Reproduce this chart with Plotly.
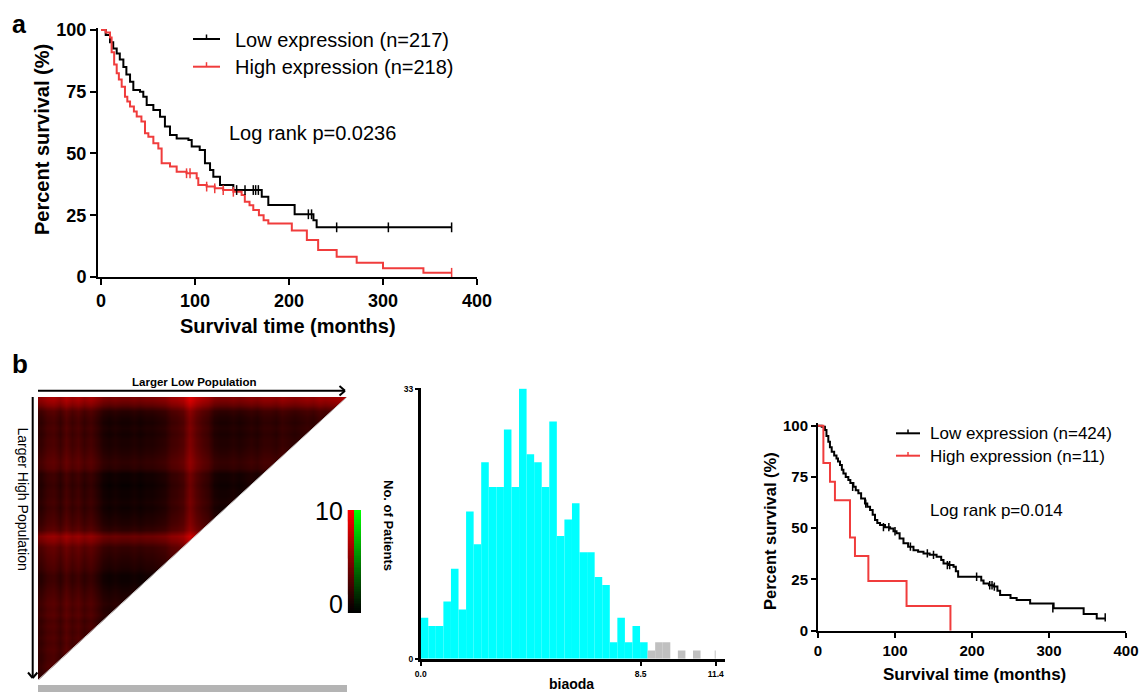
import numpy as np
import plotly.graph_objects as go

# the page body adds an 8px margin; the figure is sized so it exactly fills the window
OFF = 8
W, H = 1148 - OFF, 692 - OFF
FONT = "Liberation Sans, Arial, sans-serif"

# ---------------- Panel a : Kaplan-Meier (n=217 / n=218) ----------------
a_low_t = [0, 5, 9.6, 13, 16.7, 20, 23.8, 27, 30.9, 34.4, 41.5, 45, 48.6, 55.7, 62.8, 68, 73.4,
           80.5, 93, 96.5, 105, 110.6, 116, 119.5, 126.6, 140.8, 171, 178, 206, 226, 229.4, 373]
a_low_s = [100, 98, 95, 92.5, 90.5, 88, 85, 82, 79, 75.7, 75, 73, 69.6, 67.6, 64.9, 60.9, 57.5,
           56.1, 55.5, 52.8, 51.4, 46, 43.3, 40.6, 37.2, 35.2, 32.5, 29.1, 25.4, 23, 20.1, 20.1]
a_low_cens_t = [144.3, 153.2, 162, 164.5, 167.4, 220.6, 224, 250.7, 305.7, 373]
a_low_cens_s = [35.2, 35.2, 35.2, 35.2, 35.2, 25.4, 25.4, 20.1, 20.1, 20.1]

a_high_t = [0, 5, 9.6, 11.3, 14, 16.7, 19, 22, 25.5, 28, 30.9, 35, 38, 43, 46.8, 50.4, 55.7, 61,
            64.5, 73.4, 80.5, 91, 101.8, 103.5, 112.4, 121, 130, 140.8, 149.6, 153, 158, 162,
            168, 173, 178, 203, 219, 231, 250.7, 272, 300, 343, 373]
a_high_s = [100, 99, 97, 91, 86, 82.5, 80, 77, 73, 71, 69, 67, 65, 62.9, 58.2, 56.8, 54.1, 52,
            46, 44.7, 42.6, 42, 40, 37.2, 36.6, 35.9, 35.2, 34.5, 33.2, 30.5, 29, 27.1,
            25, 23, 21.7, 18.8, 15, 10.9, 8.2, 5.8, 3.5, 1.7, 1.7]
a_high_cens_t = [91, 94.7, 112.4, 121, 130, 140.8, 373]
a_high_cens_s = [42, 42, 36.6, 35.9, 35.2, 34.5, 1.7]

# ---------------- Panel b : X-tile style heat map ----------------
hm_rows = [9, 6.5, 3, 2, 1.5, 2, 1.5, 2, 2, 2.5, 3, 3.5, 3, 1, 1, 0.5, 1, 1, 1.5, 1, 1.5, 2,
           2.5, 3.5, 8, 6.5, 4, 3.5, 3, 2.5, 2, 1, 1, 1.5, 2, 2.5, 3, 2.5, 3, 2, 2.5, 2, 2.5,
           2, 2.5, 2, 2, 2.5, 2, 2]
hm_cols = [2, 3.5, 4, 2.5, 4.5, 3, 4, 2.5, 3.5, 2, 0.5, 0, 0.5, 0, 0, 0.5, 0, 0.5, 0.5, 1, 1.5,
           3, 3.5, 4.5, 8, 5.5, 4, 3, 1, 0.5, 0.5, 1, 0.5, 1, 1.5, 1, 2, 2, 1.5, 2.5, 2, 1.5, 2,
           2.5, 2, 3, 2.5, 3, 3.5, 4]
scale_levels = list(np.linspace(0, 10, 60))

# ---------------- Panel b : histogram of biaoda ----------------
hist_bin_width = 0.2923
hist_counts = [5, 4, 4, 7, 11, 6, 18, 14, 24, 21, 21, 28, 21, 33, 25, 24, 21, 29, 15, 17, 19,
               13, 13, 10, 9, 2, 5, 2, 4, 2, 1, 2, 2, 0, 1, 0, 1, 0]
hist_low_bins = 30          # bins drawn in cyan (below cutoff)
hist_tail_x = [11.385]
hist_tail_count = [1]

# ---------------- Panel b : Kaplan-Meier (n=424 / n=11) ----------------
b_low_t = [0, 4.8, 9, 11, 13.4, 15.5, 17.8, 21, 24, 26, 28.6, 31, 33, 36, 39.4, 42, 46, 49,
           52.4, 56, 61, 64, 67.6, 71, 74, 77, 80.6, 87, 93.6, 98, 102, 106, 111, 117, 124,
           130, 137, 145, 154, 160, 163, 170, 176, 179, 182, 212, 215, 222, 228, 233, 236.5,
           250, 258, 275.5, 306, 345, 362, 373]
b_low_s = [100, 99.5, 97.9, 95, 92.2, 89.5, 87.3, 85.5, 84, 82.5, 80.8, 78.5, 76.7, 75, 73.5,
           72, 70.2, 68.5, 67, 64.5, 62, 60.5, 58.9, 56.5, 54, 52.5, 51.5, 50.5, 49.9, 48.5,
           47.5, 45, 42.6, 41, 39.3, 38.5, 37.7, 37, 36.1, 34.5, 32.8, 32, 31.2, 29, 26.3,
           24.5, 23, 22.2, 21.5, 19.5, 17.4, 16, 15, 13.3, 10.9, 8.1, 6, 6]
b_low_cens_t = [45, 62, 85, 92, 100, 120, 142, 150, 168, 171, 206, 223, 226, 229, 305, 373]
b_low_cens_s = [70.2, 62, 50.5, 50.5, 48.5, 41, 37.7, 37, 32, 32, 26.3, 22.2, 22.2, 21.5, 10.9, 6.5]

b_high_t = [0, 7, 15.6, 22, 41.6, 48, 65.4, 115, 172]
b_high_s = [100, 81.8, 72.7, 63.6, 45.5, 36.4, 24.2, 12.1, 0]

RED = "#f03c3c"


def fx(x):
    return (x - OFF) / W


def fy(y):
    return 1 - (y - OFF) / H


fig = go.Figure()

# ---- panel a curves
fig.add_trace(go.Scatter(x=a_low_t, y=a_low_s, mode="lines", line=dict(color="black", width=2, shape="hv"),
                         xaxis="x", yaxis="y"))
fig.add_trace(go.Scatter(x=a_high_t, y=a_high_s, mode="lines", line=dict(color=RED, width=2, shape="hv"),
                         xaxis="x", yaxis="y"))
fig.add_trace(go.Scatter(x=a_low_cens_t, y=a_low_cens_s, mode="markers",
                         marker=dict(symbol="line-ns-open", size=7, color="black", line=dict(color="black", width=1.5)),
                         xaxis="x", yaxis="y"))
fig.add_trace(go.Scatter(x=a_high_cens_t, y=a_high_cens_s, mode="markers",
                         marker=dict(symbol="line-ns-open", size=7, color=RED, line=dict(color=RED, width=1.5)),
                         xaxis="x", yaxis="y"))

# ---- heat map
z = [[(r + c) / 2.0 for c in hm_cols] for r in hm_rows]
fig.add_trace(go.Heatmap(z=z, colorscale=[[0, "#000000"], [1, "#ff0000"]], zmin=0, zmax=10,
                         showscale=False, zsmooth="best", xaxis="x3", yaxis="y3", hoverinfo="skip"))
fig.add_trace(go.Heatmap(z=[[v] for v in scale_levels], x=[0], y=scale_levels,
                         colorscale=[[0, "#000000"], [1, "#ff0000"]], zmin=0, zmax=10,
                         showscale=False, xaxis="x4", yaxis="y4"))
fig.add_trace(go.Heatmap(z=[[v] for v in scale_levels], x=[1], y=scale_levels,
                         colorscale=[[0, "#000000"], [1, "#00ff00"]], zmin=0, zmax=10,
                         showscale=False, xaxis="x4", yaxis="y4"))

# ---- histogram
centers = [(k + 0.5) * hist_bin_width for k in range(len(hist_counts))]
colors = ["#00ffff" if k < hist_low_bins else "#c0c0c0" for k in range(len(hist_counts))]
fig.add_trace(go.Bar(x=centers, y=hist_counts, width=hist_bin_width, marker=dict(color=colors, line=dict(width=0)),
                     xaxis="x5", yaxis="y5"))
fig.add_trace(go.Bar(x=hist_tail_x, y=hist_tail_count, width=0.03, marker=dict(color="#c0c0c0", line=dict(width=0)),
                     xaxis="x5", yaxis="y5"))

# ---- panel b KM
fig.add_trace(go.Scatter(x=b_low_t, y=b_low_s, mode="lines", line=dict(color="black", width=2, shape="hv"),
                         xaxis="x2", yaxis="y2"))
fig.add_trace(go.Scatter(x=b_high_t, y=b_high_s, mode="lines", line=dict(color=RED, width=2, shape="hv"),
                         xaxis="x2", yaxis="y2"))
fig.add_trace(go.Scatter(x=b_low_cens_t, y=b_low_cens_s, mode="markers",
                         marker=dict(symbol="line-ns-open", size=6, color="black", line=dict(color="black", width=1.5)),
                         xaxis="x2", yaxis="y2"))

axis_common = dict(showline=True, linecolor="black", linewidth=2, ticks="outside", tickcolor="black",
                   tickwidth=2, showgrid=False, zeroline=False, automargin=False)

layout = dict(
    width=W, height=H, margin=dict(l=0, r=0, t=0, b=0, pad=0, autoexpand=False),
    paper_bgcolor="white", plot_bgcolor="rgba(0,0,0,0)", showlegend=False,
    font=dict(family=FONT, color="black"),
    xaxis=dict(domain=[fx(98), fx(477)], range=[-3.19, 400], tickvals=[0, 100, 200, 300, 400],
               ticklen=6, tickfont=dict(size=18, weight="bold"), anchor="y", **axis_common),
    yaxis=dict(domain=[fy(277), fy(28)], range=[0, 100.8], tickvals=[0, 25, 50, 75, 100],
               ticklen=6, tickfont=dict(size=18, weight="bold"), anchor="x", **axis_common),
    xaxis2=dict(domain=[fx(818), fx(1126)], range=[0, 400], tickvals=[0, 100, 200, 300, 400],
                ticklen=5, tickfont=dict(size=15, weight="bold"), anchor="y2", **axis_common),
    yaxis2=dict(domain=[fy(630.7), fy(422.6)], range=[0, 101.5], tickvals=[0, 25, 50, 75, 100],
                ticklen=5, tickfont=dict(size=15, weight="bold"), anchor="x2", **axis_common),
    xaxis3=dict(domain=[fx(38), fx(347)], visible=False, anchor="y3", range=[-0.5, 49.5], automargin=False),
    yaxis3=dict(domain=[fy(680), fy(397)], visible=False, anchor="x3", range=[49.5, -0.5], automargin=False),
    xaxis4=dict(domain=[fx(347), fx(361)], visible=False, anchor="y4", automargin=False),
    yaxis4=dict(domain=[fy(613), fy(510)], visible=False, anchor="x4", automargin=False),
    xaxis5=dict(domain=[fx(420.7), fx(725)], range=[0, 11.76], tickvals=[0, 8.5, 11.4],
                ticktext=["0.0", "8.5", "11.4"], showline=True, linecolor="black", linewidth=2.5,
                ticks="outside", ticklen=5, tickwidth=2, tickcolor="black", showgrid=False, zeroline=False,
                tickfont=dict(size=8.5, weight="bold"), anchor="y5", automargin=False),
    yaxis5=dict(domain=[fy(658.7), fy(388.3)], range=[0, 33.05], tickvals=[0, 33], ticktext=["0", "33"],
                showline=True, linecolor="black", linewidth=2.5, ticks="outside", ticklen=3, tickwidth=2,
                tickcolor="black", showgrid=False, zeroline=False,
                tickfont=dict(size=8.5, weight="bold"), anchor="x5", automargin=False),
)

shapes = []


def pline(x0, y0, x1, y1, color="black", width=2):
    shapes.append(dict(type="line", xref="paper", yref="paper", x0=fx(x0), y0=fy(y0), x1=fx(x1), y1=fy(y1),
                       line=dict(color=color, width=width)))


# legend samples panel a
pline(193, 39, 220, 39, "black", 2)
pline(206.5, 34.5, 206.5, 39, "black", 1.5)
pline(193, 66.7, 220, 66.7, RED, 2)
pline(206.5, 62.2, 206.5, 66.7, RED, 1.5)
# legend samples panel b right
pline(896, 433.3, 920, 433.3, "black", 2)
pline(908, 429.5, 908, 433.3, "black", 1.5)
pline(896, 455.7, 920, 455.7, RED, 2)
pline(908, 451.9, 908, 455.7, RED, 1.5)

# white triangle masking upper-right half of heat map
shapes.append(dict(type="path", xref="paper", yref="paper",
                   path="M %f %f L %f %f L %f %f Z" % (fx(347.5), fy(396.5), fx(348), fy(681), fx(37.5), fy(681)),
                   fillcolor="white", line=dict(width=0), layer="above"))
pline(347, 397, 38, 680, "#c8c8c8", 1)
# arrows
pline(38, 390.7, 345, 390.7, "black", 2)
pline(339.5, 386, 345, 390.7, "black", 2)
pline(339.5, 395.4, 345, 390.7, "black", 2)
pline(32.7, 397, 32.7, 678, "black", 2)
pline(28, 672.5, 32.7, 678, "black", 2)
pline(37.4, 672.5, 32.7, 678, "black", 2)
# grey bar under heat map
shapes.append(dict(type="rect", xref="paper", yref="paper", x0=fx(38), x1=fx(347), y0=fy(692), y1=fy(685),
                   fillcolor="#b4b4b4", line=dict(width=0)))
layout["shapes"] = shapes


def ann(text, x, y, size, bold=False, xanchor="center", angle=0, color="black"):
    return dict(text=text, x=fx(x), y=fy(y), xref="paper", yref="paper", showarrow=False,
                xanchor=xanchor, yanchor="middle", textangle=angle, borderpad=0,
                font=dict(family=FONT, size=size, color=color, weight="bold" if bold else "normal"))


layout["annotations"] = [
    ann("a", 11, 24, 25, True, "left"),
    ann("b", 11, 364, 26, True, "left"),
    ann("Low expression (n=217)", 234, 40, 20, False, "left"),
    ann("High expression (n=218)", 234, 67, 20, False, "left"),
    ann("Log rank p=0.0236", 228, 133, 20, False, "left"),
    ann("Percent survival (%)", 42, 140, 20, True, "center", -90),
    ann("Survival time (months)", 288, 326, 20, True),
    ann("Larger Low Population", 194, 382, 11.5, True),
    ann("Larger High Population", 22.5, 499, 14, False, "center", 90),
    ann("10", 344, 511, 25, False, "right"),
    ann("0", 344, 604, 25, False, "right"),
    ann("No. of Patients", 389, 525, 13, True, "center", 90),
    ann("biaoda", 571, 684, 14, True),
    ann("Low expression (n=424)", 929, 433, 17, False, "left"),
    ann("High expression (n=11)", 929, 456, 17, False, "left"),
    ann("Log rank p=0.014", 929, 510, 17, False, "left"),
    ann("Percent survival (%)", 770, 531, 16.5, True, "center", -90),
    ann("Survival time (months)", 974, 674, 17, True),
]

fig.update_layout(**layout)
fig.write_html("out.html")
